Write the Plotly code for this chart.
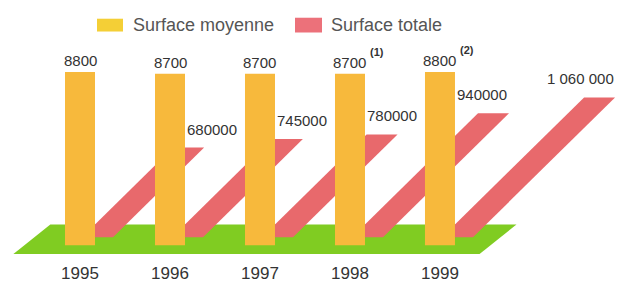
import plotly.graph_objects as go

# ---- data ----
years = [1995, 1996, 1997, 1998, 1999]
avg_surface = [8800, 8700, 8700, 8700, 8800]          # Surface moyenne
avg_notes = ["", "", "", "(1)", "(2)"]
total_surface = [680000, 745000, 780000, 940000, 1060000]  # Surface totale
total_labels = ["680000", "745000", "780000", "940000", "1 060 000"]
series_names = ["Surface moyenne", "Surface totale"]

# ---- layout constants ----
W, H = 617, 283
M_B = 18
PLOT_H = H - M_B
X_RANGE = [1994.111, 2000.967]
RED_BASE_PX, RED_UNITS_PER_PX = 241, 7460
YEL_BASE_PX, YEL_UNITS_PER_PX = 249, 50
Y_RED = [-(PLOT_H - RED_BASE_PX) * RED_UNITS_PER_PX, RED_BASE_PX * RED_UNITS_PER_PX]
Y_YEL = [-(PLOT_H - YEL_BASE_PX) * YEL_UNITS_PER_PX, YEL_BASE_PX * YEL_UNITS_PER_PX]

YELLOW = "#F7B93C"
YELLOW_LEG = "#F4CF36"
RED = "#E8696C"
RED_LEG = "#EC717A"
GREEN = "#80CC22"
NUM_FONT = "Liberation Sans, Arial, sans-serif"
TXT_FONT = "Liberation Sans, Arial, sans-serif"

px_per_year = W / (X_RANGE[1] - X_RANGE[0])
px_per_red = PLOT_H / (Y_RED[1] - Y_RED[0])

BAR_W = 30 / px_per_year          # yellow bar width in years
STRIP_OFF = 33 / px_per_year      # red strip right edge offset from the year
STRIP_TH = 31 / px_per_year       # red strip thickness (horizontal)

fig = go.Figure()

# ground plane (decoration)
g_bl, g_br, g_shift = 1994.26, 1999.44, 0.41
g_bot, g_top = -17 * RED_UNITS_PER_PX, 13 * RED_UNITS_PER_PX
fig.add_trace(go.Scatter(
    x=[g_bl, g_br, g_br + g_shift, g_bl + g_shift, g_bl],
    y=[g_bot, g_bot, g_top, g_top, g_bot],
    fill="toself", fillcolor=GREEN, mode="lines", line=dict(width=0),
    hoverinfo="skip", showlegend=False))

# red slanted strips (Surface totale), 45 degree slant in pixel space
for yr, v in zip(years, total_surface):
    xr = yr + STRIP_OFF
    s = v * px_per_red / px_per_year
    fig.add_trace(go.Scatter(
        x=[xr - STRIP_TH, xr, xr + s, xr - STRIP_TH + s, xr - STRIP_TH],
        y=[0, 0, v, v, 0],
        fill="toself", fillcolor=RED, mode="lines", line=dict(width=0),
        name=series_names[1], showlegend=False, hoverinfo="skip"))

# yellow bars (Surface moyenne) on overlaying axis so they sit on top
fig.add_trace(go.Bar(
    x=years, y=avg_surface, width=BAR_W, yaxis="y2",
    marker=dict(color=YELLOW, line=dict(width=0)),
    name=series_names[0], showlegend=False))

ann = []
for yr, v, note in zip(years, avg_surface, avg_notes):
    ann.append(dict(x=yr, y=v, xref="x", yref="y2", text=str(v),
                    showarrow=False, yanchor="bottom", yshift=1,
                    font=dict(family=NUM_FONT, size=15, color="#333")))
    if note:
        ann.append(dict(x=yr, y=v, xref="x", yref="y2", text="<b>" + note + "</b>",
                        showarrow=False, xanchor="left", yanchor="bottom",
                        xshift=18, yshift=14,
                        font=dict(family=TXT_FONT, size=11, color="#333")))

for yr, v, lab in zip(years, total_surface, total_labels):
    ann.append(dict(x=yr + 1 + BAR_W / 2, y=v, xref="x", yref="y", text=lab,
                    showarrow=False, xanchor="left", yanchor="bottom",
                    yshift=8,
                    font=dict(family=NUM_FONT, size=15, color="#333")))

# manual legend
def px_x(p):
    return p / W

def px_y(p):
    return (PLOT_H - p) / PLOT_H

shapes = [
    dict(type="rect", xref="paper", yref="paper",
         x0=px_x(97), x1=px_x(123), y0=px_y(32), y1=px_y(19),
         fillcolor=YELLOW_LEG, line=dict(width=0)),
    dict(type="rect", xref="paper", yref="paper",
         x0=px_x(295), x1=px_x(322), y0=px_y(33), y1=px_y(18),
         fillcolor=RED_LEG, line=dict(width=0)),
]
ann.append(dict(x=px_x(131), y=px_y(25), xref="paper", yref="paper",
                text=series_names[0], showarrow=False, xanchor="left",
                yanchor="middle",
                font=dict(family=TXT_FONT, size=18, color="#555")))
ann.append(dict(x=px_x(329), y=px_y(25), xref="paper", yref="paper",
                text=series_names[1], showarrow=False, xanchor="left",
                yanchor="middle",
                font=dict(family=TXT_FONT, size=18, color="#555")))

fig.update_layout(
    width=W, height=H,
    margin=dict(l=0, r=0, t=0, b=M_B),
    paper_bgcolor="white", plot_bgcolor="white",
    showlegend=False,
    xaxis=dict(range=X_RANGE, tickmode="array", tickvals=years,
               ticktext=[str(y) for y in years], showgrid=False,
               zeroline=False, showline=False, ticks="",
               tickfont=dict(family=TXT_FONT, size=17, color="#333")),
    yaxis=dict(range=Y_RED, visible=False, showgrid=False, zeroline=False),
    yaxis2=dict(range=Y_YEL, overlaying="y", visible=False,
                showgrid=False, zeroline=False),
    annotations=ann, shapes=shapes,
)

fig.write_html("out.html", config={"displayModeBar": False},
               post_script="document.body.style.margin='0';document.body.style.overflow='hidden';")
